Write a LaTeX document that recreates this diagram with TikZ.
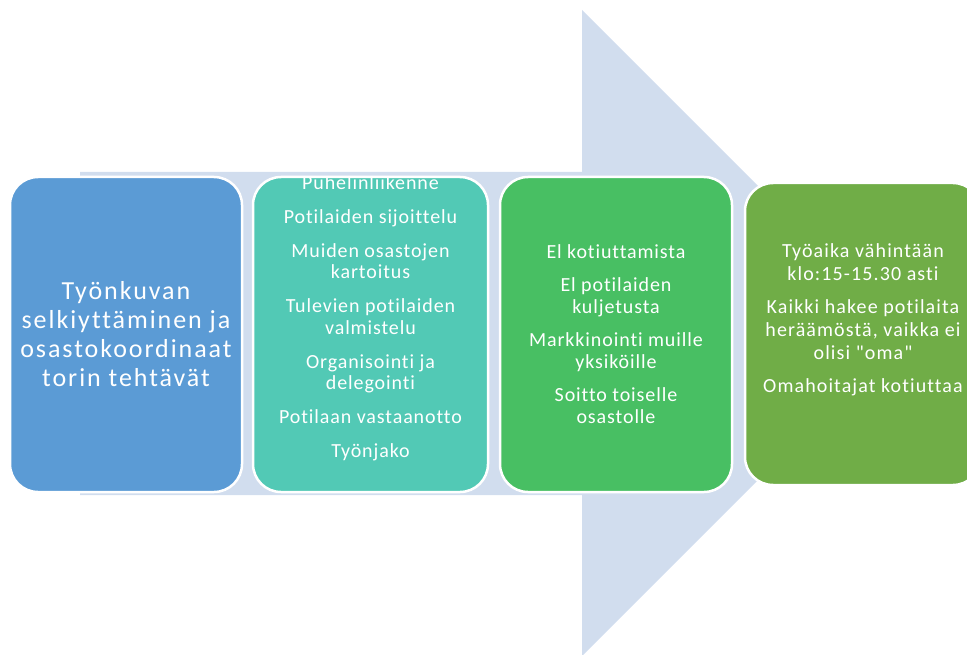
\documentclass[tikz,border=0pt]{standalone}
\usepackage{fontspec}
\setmainfont{Carlito}[LetterSpace=4.5, Ligatures={TeXOff,NoCommon}]
\newfontfamily\bigfont{Carlito}[LetterSpace=7.5, Ligatures={TeXOff,NoCommon}]
\newfontfamily\rightfont{Carlito}[LetterSpace=5.5, Ligatures={TeXOff,NoCommon}]
\definecolor{arrowc}{RGB}{209,221,238}
\definecolor{c1}{RGB}{91,155,213}
\definecolor{c2}{RGB}{82,201,181}
\definecolor{c3}{RGB}{72,191,99}
\definecolor{c4}{RGB}{112,173,71}
\begin{document}
\begin{tikzpicture}[x=1pt,y=-1pt,
  box/.style={draw=white, line width=2.5pt, rounded corners=28pt, inner sep=0pt},
  txt/.style={text=white, align=center, inner sep=0pt},
  small/.style={font=\fontsize{20}{21.5}\selectfont}]
\useasboundingbox (0,0) rectangle (967,655);
% big background arrow
\fill[arrowc] (80,172) -- (582,172) -- (582,10) -- (905,333) -- (582,656) -- (582,495) -- (80,495) -- cycle;
% boxes
\node[box, fill=c1, minimum width=232pt, minimum height=315pt] (b1) at (126,334.5) {};
\node[box, fill=c2, minimum width=235pt, minimum height=315pt] (b2) at (370.5,334.5) {};
\node[box, fill=c3, minimum width=232pt, minimum height=315pt] (b3) at (616,334.5) {};
\node[box, fill=c4, minimum width=236pt, minimum height=302pt] (b4) at (863,334) {};
% texts
\node[txt, font=\bigfont\fontsize{26}{29}\selectfont] (t1) at (126,334) {Työnkuvan\\selkiyttäminen ja\\osastokoordinaat\\torin tehtävät};
\begin{scope}
\clip[rounded corners=27pt] ([shift={(1.2pt,-1.2pt)}]b2.north west) rectangle ([shift={(-1.2pt,1.2pt)}]b2.south east);
\node[txt, small] (t2) at (370.5,318.5) {Puhelinliikenne\\[12.5pt]Potilaiden sijoittelu\\[12.5pt]Muiden osastojen\\kartoitus\\[12.5pt]Tulevien potilaiden\\valmistelu\\[12.5pt]Organisointi ja\\delegointi\\[12.5pt]Potilaan vastaanotto\\[12.5pt]Työnjako};
\end{scope}
\node[txt, small] (t3) at (616,334) {El kotiuttamista\\[12pt]El potilaiden\\kuljetusta\\[12pt]Markkinointi muille\\yksiköille\\[12pt]Soitto toiselle\\osastolle};
\node[txt, font=\rightfont\fontsize{20}{23}\selectfont] (t4) at (863,320) {Työaika vähintään\\klo:15-15.30 asti\\[10pt]Kaikki hakee potilaita\\heräämöstä, vaikka ei\\olisi "oma"\\[10pt]Omahoitajat kotiuttaa};
\end{tikzpicture}
\end{document}
